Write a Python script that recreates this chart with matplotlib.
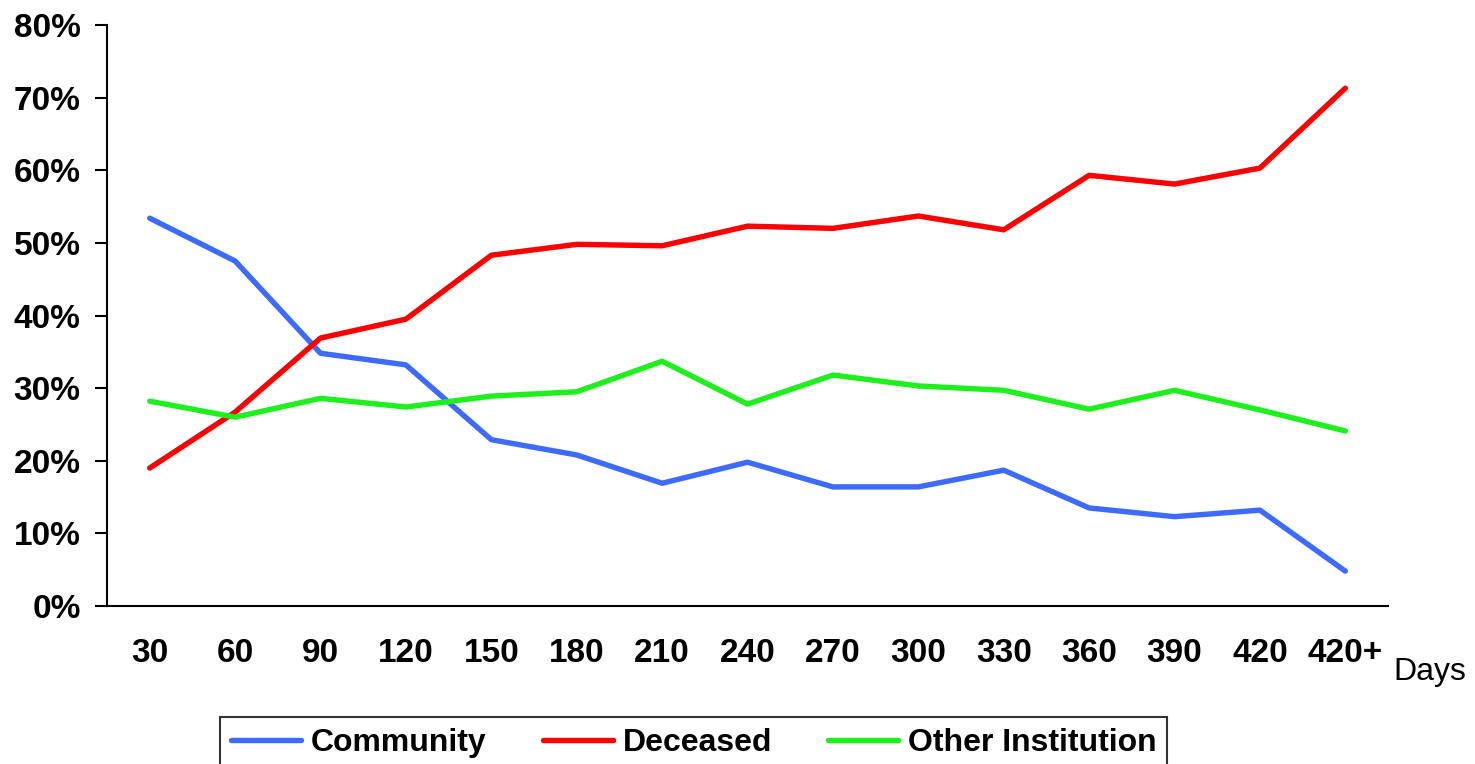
import matplotlib
matplotlib.use("Agg")
import matplotlib.pyplot as plt
from matplotlib.ticker import FuncFormatter

categories = ["30", "60", "90", "120", "150", "180", "210", "240", "270", "300", "330", "360", "390", "420", "420+"]
community = [53.4, 47.5, 34.8, 33.2, 22.9, 20.8, 16.9, 19.8, 16.4, 16.4, 18.7, 13.5, 12.3, 13.2, 4.8]
deceased = [19.0, 26.7, 36.9, 39.5, 48.3, 49.8, 49.6, 52.3, 52.0, 53.7, 51.8, 59.3, 58.1, 60.3, 71.3]
other = [28.2, 26.0, 28.6, 27.4, 28.9, 29.5, 33.7, 27.8, 31.8, 30.3, 29.7, 27.1, 29.7, 27.0, 24.1]
y_ticks = [0, 10, 20, 30, 40, 50, 60, 70, 80]

plt.rcParams['font.family'] = ['Liberation Sans', 'DejaVu Sans']

fig = plt.figure(figsize=(14.75, 7.64), dpi=100)
ax = fig.add_axes([107/1475, 1-606/764, (1388-107)/1475, (606-25)/764])

x = list(range(len(categories)))
ax.plot(x, community, color='#3D6BFF', lw=3.9, label='Community', solid_capstyle='round')
ax.plot(x, deceased, color='#FF0000', lw=3.9, label='Deceased', solid_capstyle='round')
ax.plot(x, other, color='#1EF01E', lw=3.9, label='Other Institution', solid_capstyle='round')

ax.set_xlim(-0.5, len(categories) - 0.5)
ax.set_ylim(0, 80)
ax.set_xticks(x)
ax.set_xticklabels(categories, fontsize=24, fontweight='bold')
ax.set_yticks(y_ticks)
ax.yaxis.set_major_formatter(FuncFormatter(lambda v, p: f"{int(v)}%"))
for lab in ax.get_yticklabels():
    lab.set_fontsize(24)
    lab.set_fontweight('bold')
ax.tick_params(axis='x', length=0, pad=23)
ax.tick_params(axis='y', length=9, width=1.5, pad=10, direction='out')
for s in ['top', 'right']:
    ax.spines[s].set_visible(False)
for s in ['left', 'bottom']:
    ax.spines[s].set_linewidth(1.5)

fig.text(1393/1475, 1-672/764, "Days", fontsize=23, va='center', ha='left')

leg = fig.legend(loc='upper left', bbox_to_anchor=(220/1475, 1-717/764), ncol=3,
                 frameon=True, fancybox=False, borderaxespad=0,
                 prop={'size': 23, 'weight': 'bold'}, handlelength=2.2,
                 handletextpad=0.3, columnspacing=1.75, borderpad=0.35)
leg.get_frame().set_edgecolor('black')
leg.get_frame().set_linewidth(1.5)

fig.savefig("out.png", dpi=100)
